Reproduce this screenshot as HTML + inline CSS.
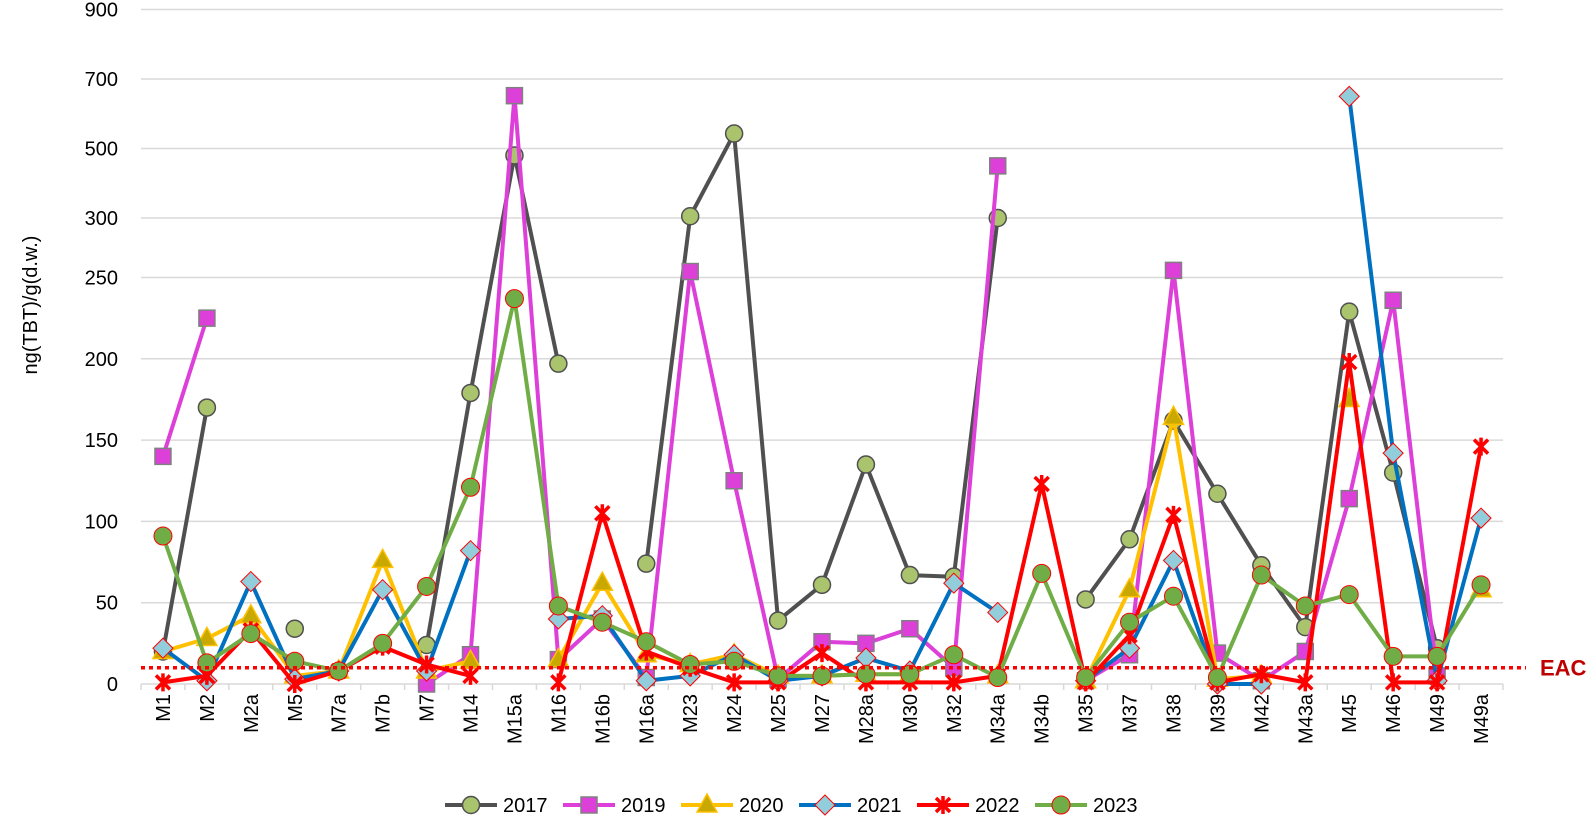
<!DOCTYPE html>
<html><head><meta charset="utf-8"><style>
html,body{margin:0;padding:0;background:#fff;}
svg{display:block;font-family:"Liberation Sans",sans-serif;}
</style></head><body>
<svg id="chart" width="1590" height="816" viewBox="0 0 1590 816" xmlns="http://www.w3.org/2000/svg"></svg>
<script>
const categories=["M1","M2","M2a","M5","M7a","M7b","M7","M14","M15a","M16","M16b","M16a","M23","M24","M25","M27","M28a","M30","M32","M34a","M34b","M35","M37","M38","M39","M42","M43a","M45","M46","M49","M49a"];
const s2017=[20,170,null,34,null,null,24,179,480,197,null,74,305,543,39,61,135,67,66,300,null,52,89,162,117,73,35,229,130,22,null];
const s2019=[140,225,null,null,null,null,0,18,652,15,40,4,255,125,3,26,25,34,10,450,null,2,18,256,19,2,20,114,236,5,null];
const s2020=[20,28,42,5,8,76,8,14,null,15,62,18,12,18,5,5,6,6,null,5,null,2,58,164,3,5,null,175,null,null,58];
const s2021=[22,2,63,3,8,58,8,82,null,40,42,2,5,18,2,5,16,8,62,44,null,2,22,76,0,0,null,650,142,2,102];
const s2022=[1,5,33,0,8,23,12,5,null,1,105,20,10,1,1,19,1,1,1,5,123,1,30,104,1,6,1,198,1,1,146];
const s2023=[91,13,31,14,8,25,60,121,237,48,38,26,12,14,5,5,6,6,18,4,68,4,38,54,4,67,48,55,17,17,61];
const tickValues=[0,50,100,150,200,250,300,500,700,900];
const eacValue=10;
const seriesNames=["2017","2019","2020","2021","2022","2023"];

const NS="http://www.w3.org/2000/svg";
const svg=document.getElementById('chart');
const L=141,R=1503;
const step=(R-L)/categories.length;
function xPos(i){return L+step*(i+0.5);}
function yPos(v){
  if(v<=250) return 684-v*(406.5/250);
  if(v<=300) return 277.5-(v-250)*(59.5/50);
  return 218-(v-300)*(208.5/600);
}
function el(tag,attrs,parent){const e=document.createElementNS(NS,tag);for(const k in attrs)e.setAttribute(k,attrs[k]);(parent||svg).appendChild(e);return e;}

tickValues.forEach(v=>{
  const y=yPos(v);
  const g=el('line',{x1:L,x2:R,y1:y,y2:y,stroke:'#d9d9d9','stroke-width':1.5});
  
  
  const t=el('text',{x:118,y:y+7,'text-anchor':'end','font-size':20,fill:'#000'});
  t.textContent=v;
  
  
});
for(let i=0;i<=categories.length;i++){
  const x=L+step*i;
  const tk=el('line',{x1:x,x2:x,y1:684,y2:690,stroke:'#d9d9d9','stroke-width':1.5});
  
  
}
categories.forEach((c,i)=>{
  const x=xPos(i);
  const t=el('text',{x:0,y:0,'text-anchor':'end','font-size':20,fill:'#000',transform:`translate(${x+7},${694}) rotate(-90)`});
  t.textContent=c;
  
  
});
const yt=el('text',{x:0,y:0,'text-anchor':'middle','font-size':20,fill:'#000',transform:'translate(37,305) rotate(-90)'});
yt.textContent='ng(TBT)/g(d.w.)';



function drawMarker(type,x,y,g){
  let m;
  if(type==='circle-gray'){m=el('circle',{cx:x,cy:y,r:8.5,fill:'#a9c46c',stroke:'#505050','stroke-width':1.5},g);}
  else if(type==='square'){m=el('rect',{x:x-8,y:y-8,width:16,height:16,fill:'#dd3fd9',stroke:'#808080','stroke-width':1.5},g);}
  else if(type==='triangle'){m=el('polygon',{points:`${x},${y-11} ${x+10},${y+7} ${x-10},${y+7}`,fill:'#c9a900',stroke:'#ffc000','stroke-width':1.5},g);}
  else if(type==='diamond'){m=el('polygon',{points:`${x},${y-10} ${x+10},${y} ${x},${y+10} ${x-10},${y}`,fill:'#92cddc',stroke:'#ff0000','stroke-width':1},g);}
  else if(type==='x'){m=el('path',{d:`M${x-7},${y-7}L${x+7},${y+7}M${x+7},${y-7}L${x-7},${y+7}M${x},${y-9}L${x},${y+9}`,stroke:'#ff0000','stroke-width':3.5,fill:'none'},g);}
  else {m=el('circle',{cx:x,cy:y,r:9,fill:'#70ad47',stroke:'#ff0000','stroke-width':1},g);}
  
  
}
const seriesDefs=[
  {name:'2017',data:s2017,color:'#505050',marker:'circle-gray'},
  {name:'2019',data:s2019,color:'#dd3fd9',marker:'square'},
  {name:'2020',data:s2020,color:'#ffc000',marker:'triangle'},
  {name:'2021',data:s2021,color:'#0070c0',marker:'diamond'},
  {name:'2022',data:s2022,color:'#ff0000',marker:'x'},
  {name:'2023',data:s2023,color:'#70ad47',marker:'circle-green'}
];
seriesDefs.forEach(s=>{
  const g=el('g',{});
  
  
  let d='',pen=false;
  s.data.forEach((v,i)=>{
    if(v===null){pen=false;return;}
    d+=(pen?'L':'M')+xPos(i).toFixed(1)+','+yPos(v).toFixed(1);pen=true;
  });
  const p=el('path',{d:d,stroke:s.color,'stroke-width':4,fill:'none','stroke-linejoin':'round'},g);
  
  
  s.data.forEach((v,i)=>{if(v!==null)drawMarker(s.marker,xPos(i),yPos(v),g);});
});
const ey=yPos(eacValue);
const eac=el('line',{x1:L,x2:1526,y1:ey,y2:ey,stroke:'#ff0000','stroke-width':3.5,'stroke-dasharray':'4,4'});


const et=el('text',{x:1540,y:ey+8,'font-size':22,'font-weight':'bold',fill:'#c00000'});
et.textContent='EAC';


const lg=el('g',{});


seriesDefs.forEach((s,i)=>{
  const x0=445+i*118, y0=805;
  const e=el('g',{},lg);
  
  
  el('line',{x1:x0,x2:x0+52,y1:y0,y2:y0,stroke:s.color,'stroke-width':4},e);
  drawMarker(s.marker,x0+26,y0,e);
  const t=el('text',{x:x0+58,y:y0+7,'font-size':20,fill:'#000'},e);
  t.textContent=seriesNames[i];
});
</script>
</body></html>
